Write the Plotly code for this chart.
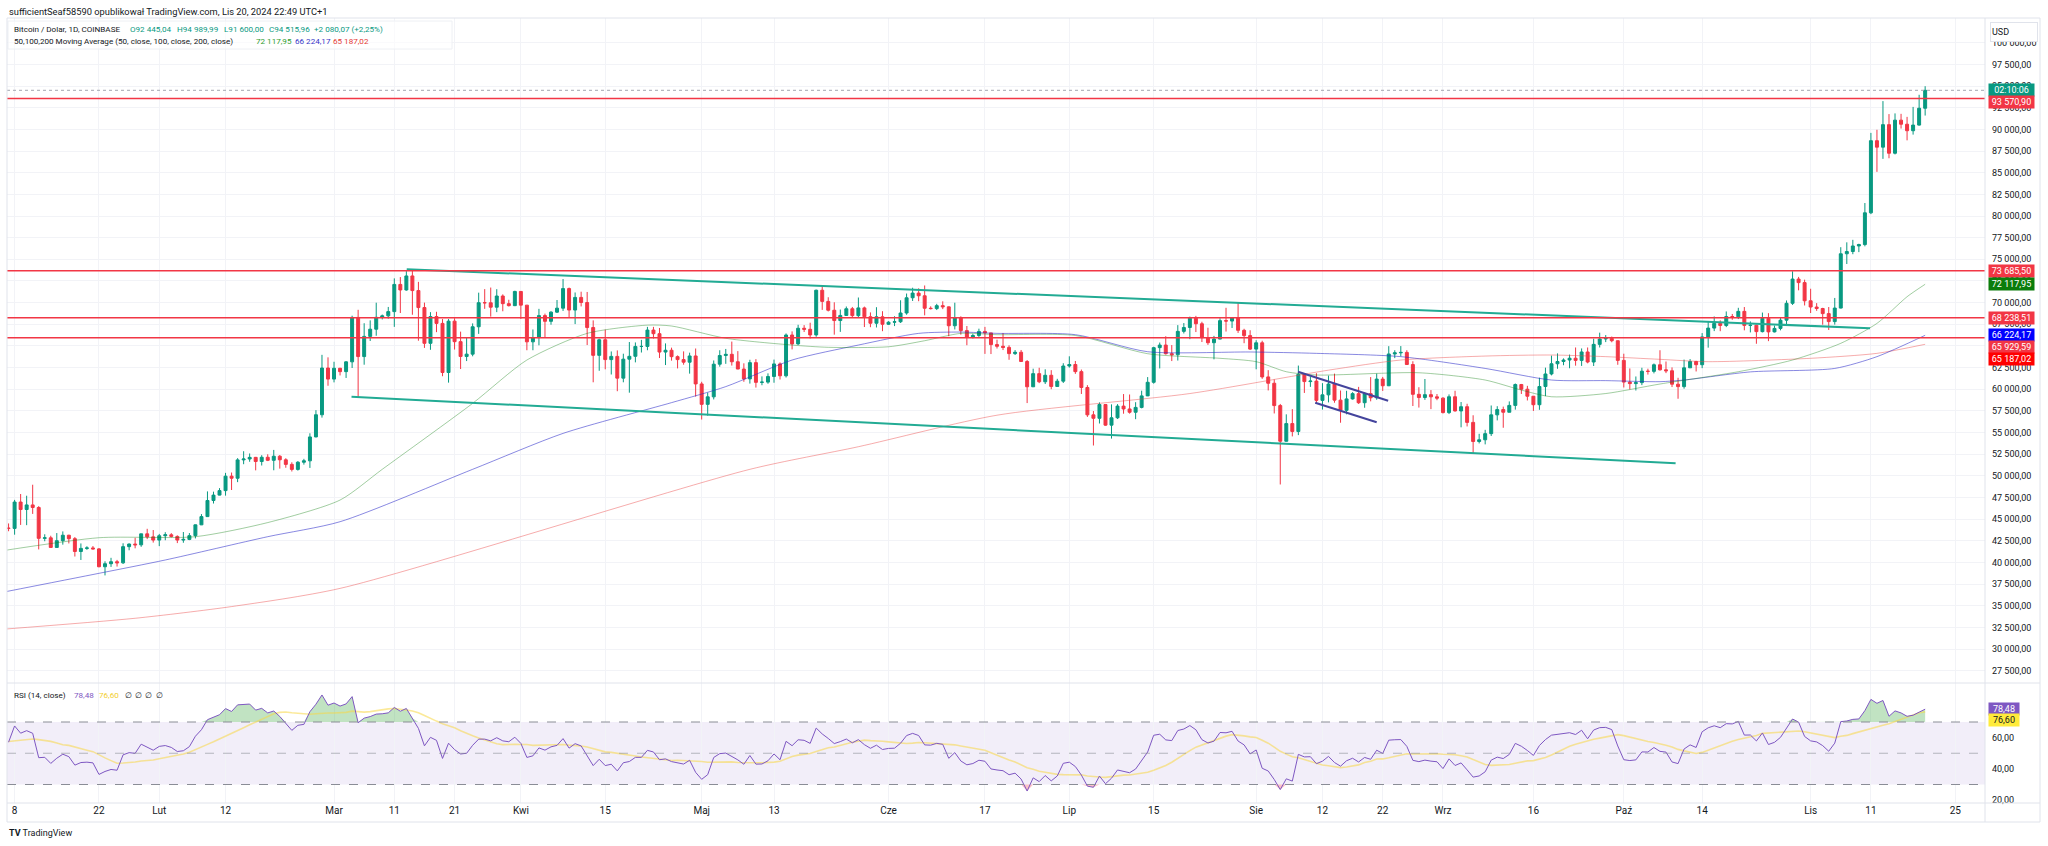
import numpy as np
import pandas as pd
import plotly.graph_objects as go

# ------------------------------------------------------------------ data
FIRST_OPEN = 43960.0  # open of the first candle (2024-01-07)

closes = [
    # Jan 7-31
    43930, 46970, 46110, 46640, 46340, 42780, 42840, 41730, 42510, 43140, 42740, 41260, 41620, 41670,
    41560, 39500, 39850, 40080, 39950, 41820, 42120, 42030, 43300, 42950, 42580,
    # Feb
    43080, 43190, 43000, 42580, 42660, 43090, 44340, 45290, 47150, 47770, 48290, 49960, 49720, 51840,
    51940, 52130, 51650, 52140, 51790, 52260, 51850, 51320, 50740, 51570, 51730, 54490, 57050, 62450, 61170,
    # Mar
    62420, 62030, 63160, 68290, 63770, 66100, 66930, 68300, 68470, 68960, 72100, 71460, 73080, 71390,
    69430, 65300, 68390, 67600, 61930, 67860, 65490, 63780, 64050, 67210, 69990, 69980, 69470, 70760,
    69880, 69650, 71290,
    # Apr
    69710, 65470, 65960, 68500, 67840, 68900, 69360, 71620, 69140, 70600, 70010, 67120, 63910, 65710,
    63420, 63790, 61280, 63470, 63800, 64940, 64940, 66830, 66410, 64290, 64500, 63760, 63420, 63120,
    63840, 60610,
    # May
    58250, 59120, 62890, 63890, 64030, 63170, 62330, 61190, 63070, 60790, 60820, 61470, 62920, 61550,
    66260, 65230, 67040, 66920, 66270, 71430, 70140, 69120, 67930, 68520, 69290, 68500, 69390, 68370,
    67620, 68360, 67500,
    # Jun
    67740, 67790, 68800, 70560, 71100, 70790, 69350, 69310, 69650, 69510, 67330, 68260, 66770, 66020,
    66200, 66670, 66500, 65150, 64960, 64830, 64110, 64270, 63200, 60280, 61800, 60860, 61610, 60320,
    60930, 62680,
    # Jul
    62850, 62030, 60200, 57040, 56640, 58230, 55850, 56700, 58050, 57720, 57340, 57900, 59230, 60800,
    64800, 65100, 64100, 63980, 66680, 67130, 68200, 67560, 65950, 65370, 65790, 67920, 67870, 68250,
    66800, 66190, 64630,
    # Aug
    65360, 61420, 60690, 58110, 53990, 56030, 55120, 61720, 60880, 60940, 58710, 59350, 60600, 58740,
    57560, 58880, 59490, 58440, 59490, 59010, 61170, 60400, 64070, 64200, 64250, 62850, 59410, 59040,
    59370, 59120, 58970,
    # Sep
    57300, 59130, 57490, 57980, 56170, 53960, 54160, 54870, 57040, 57650, 57340, 58130, 60540, 60000,
    59190, 58210, 60310, 61760, 62940, 63200, 63370, 63580, 63330, 64300, 63140, 65180, 65800, 65870,
    65600, 63330,
    # Oct
    60820, 60650, 60760, 62080, 62060, 62820, 62240, 62130, 60580, 60300, 62470, 63200, 62830, 66040,
    67060, 67600, 67360, 68390, 68360, 68990, 67370, 67390, 66650, 68180, 66620, 67020, 67970, 69920,
    72720, 72310, 70210,
    # Nov 1-20
    69490, 69320, 68730, 67810, 69370, 75640, 75900, 76540, 76700, 80370, 88700, 87950, 90550, 87250,
    91070, 90600, 89850, 90500, 92445.04, 94515.96,
]

highs = [
    44500, 47220, 47900, 47700, 48970, 46500, 43250, 43080, 43390, 43580, 43190, 42930, 42190, 41870,
    41890, 41660, 40130, 40530, 40290, 42210, 42190, 42840, 43310, 43880, 43740,
    43290, 43490, 43380, 43120, 43510, 43390, 44370, 45580, 48200, 48170, 48580, 50340, 50380, 52040,
    52840, 52580, 52180, 52380, 52490, 52990, 52400, 52030, 51560, 51700, 51960, 54910, 57580, 63970, 63680,
    63170, 62460, 63240, 68490, 69170, 67620, 67950, 69990, 68620, 69500, 72800, 72950, 73640, 73780,
    72400, 70000, 68900, 68940, 68100, 68100, 68200, 66650, 65990, 67600, 71150, 71560, 71740, 71550,
    70950, 70330, 71370,
    71340, 69710, 66900, 69280, 68730, 69000, 70300, 72720, 71740, 71170, 71260, 71230, 67950, 65840,
    66880, 64360, 64480, 64100, 65450, 65400, 65700, 67200, 67200, 67070, 65290, 64800, 63900, 64370,
    64220, 64700,
    60860, 59600, 63320, 64500, 64650, 65500, 64400, 62990, 63400, 63470, 61480, 61830, 63420, 63100,
    66440, 66680, 67440, 67400, 67680, 71500, 71950, 70620, 70040, 69200, 69550, 69500, 70590, 69540,
    68870, 69470, 69010,
    67850, 68430, 70270, 71050, 71720, 71650, 71980, 69570, 69860, 70150, 69550, 69990, 68420, 67300,
    66400, 66990, 67200, 66500, 65720, 66490, 65070, 64520, 64530, 63370, 62370, 62480, 62300, 62200,
    61200, 63000,
    63800, 63260, 62270, 60470, 57480, 58480, 58230, 58250, 58280, 59440, 59390, 58500, 59830, 61400,
    64900, 65390, 66120, 65100, 67400, 67640, 68380, 68470, 67790, 67100, 66160, 68200, 69400, 68340,
    70000, 66980, 66810,
    65660, 65600, 62200, 61130, 58300, 57100, 57700, 62730, 61750, 61470, 61850, 60700, 61570, 61800,
    59850, 59820, 59660, 60270, 59620, 61400, 61800, 61420, 64970, 64500, 64980, 64500, 63230, 60230,
    61180, 59900, 59440,
    59070, 59400, 59820, 58520, 58320, 56990, 54850, 55310, 58120, 58040, 57990, 58590, 60660, 60610,
    60390, 59210, 61330, 62490, 63880, 64140, 63560, 64000, 64820, 64710, 64820, 65830, 66530, 66250,
    66080, 65610,
    64100, 62400, 61470, 62480, 62370, 62970, 64500, 63200, 62520, 61320, 63420, 63480, 63280, 66480,
    67880, 68400, 67950, 68980, 68690, 69400, 69490, 67830, 67450, 68850, 68780, 67350, 68290, 70250,
    73620, 72970, 72650,
    71600, 69940, 69400, 69490, 70540, 76400, 76960, 77250, 76800, 81500, 89600, 89960, 93270, 91770,
    91850, 91800, 91450, 92600, 94000, 94989.99,
]

lows = [
    43600, 43200, 44330, 44300, 45600, 41500, 42440, 41720, 41720, 42050, 42190, 40680, 40280, 41450,
    41500, 39440, 38500, 39480, 39520, 39820, 41400, 41630, 41800, 42690, 42290,
    41880, 42560, 42890, 42230, 42270, 42570, 42770, 44310, 45240, 46800, 47740, 47710, 48360, 49270,
    51340, 51620, 50630, 51190, 51700, 50640, 50830, 50930, 50500, 50600, 51290, 50910, 54450, 56720, 60400,
    60790, 61590, 61300, 62450, 59000, 62830, 65570, 66170, 68060, 68150, 67200, 68800, 71380, 68600,
    65600, 64770, 64550, 66590, 61500, 60760, 64580, 62330, 63250, 63800, 66390, 69280, 68380, 68900,
    69000, 69550, 69600,
    68110, 64500, 64500, 65070, 66000, 67450, 68800, 69040, 68220, 67520, 69560, 65100, 60800, 62130,
    62300, 61700, 59770, 60800, 59600, 63100, 64240, 64500, 65850, 63600, 62790, 63300, 62400, 62830,
    61800, 59150,
    56500, 56940, 58820, 62600, 62930, 62730, 62320, 60860, 60650, 60190, 60460, 60630, 60750, 61120,
    61350, 64600, 65110, 66610, 65850, 66060, 69160, 68980, 66300, 66620, 68470, 68250, 68230, 67180,
    67160, 67130, 66700,
    67420, 67290, 67650, 68600, 70190, 70160, 68530, 69210, 69140, 69250, 66120, 66900, 66300, 65080,
    65860, 66040, 64080, 64060, 64700, 64520, 63400, 63950, 63150, 58400, 60250, 60700, 60600, 60000,
    60280, 60720,
    62490, 61770, 59450, 56800, 53500, 56040, 55780, 54300, 56560, 57170, 57180, 56540, 57790, 59210,
    60640, 62400, 64000, 63250, 63310, 66440, 65780, 66600, 65450, 65120, 63450, 65770, 66660, 67070,
    66500, 65310, 64530,
    62300, 61200, 59860, 57200, 49000, 53960, 54550, 54700, 59570, 60270, 58300, 57650, 58480, 58440,
    56130, 57100, 58800, 58300, 57860, 58600, 58780, 59800, 60360, 63590, 63800, 62800, 58060, 57880,
    58770, 57700, 58730,
    57200, 57130, 57420, 55600, 55700, 52550, 53740, 53630, 54600, 56400, 55550, 57340, 57640, 59450,
    58700, 57490, 57620, 59200, 61600, 62360, 62770, 62420, 62720, 62690, 62990, 62680, 64820, 65440,
    65420, 62820,
    60200, 59980, 59850, 60470, 61690, 61830, 62150, 61860, 60250, 58900, 60060, 62470, 62050, 62430,
    64800, 66710, 66700, 67170, 68020, 68100, 66800, 66560, 65250, 66560, 65550, 66560, 66800, 67510,
    69730, 71420, 69670,
    68800, 69050, 67450, 66840, 67460, 69330, 74460, 75590, 75830, 76500, 80220, 85100, 86600, 86670,
    87110, 90100, 88740, 89400, 90440, 91600,
]

# closes before the visible window (Dec 1 2023 - Jan 6 2024), used only to warm up the RSI
warmup_closes = [
    38690, 39460, 39970, 41990, 44080, 43770, 43290, 44170, 43720, 43790, 41240, 41450, 42890, 43020,
    41940, 42260, 41370, 42660, 42270, 43660, 43870, 43990, 43730, 43010, 43580, 42520, 43440, 42580,
    42070, 42140, 42280, 44180, 44950, 42850, 44150, 44160, 43960,
]

# moving averages
ma50_dates = ["2024-01-06", "2024-01-22", "2024-02-07", "2024-02-19", "2024-03-02", "2024-03-09",
              "2024-03-24", "2024-04-02", "2024-04-12", "2024-04-22", "2024-04-26", "2024-05-05",
              "2024-05-16", "2024-05-22", "2024-06-01", "2024-06-07", "2024-06-13", "2024-06-19",
              "2024-07-02", "2024-07-14", "2024-07-26", "2024-08-01", "2024-08-06", "2024-08-11",
              "2024-08-28", "2024-09-08", "2024-09-14", "2024-09-19", "2024-09-28", "2024-10-07",
              "2024-10-20", "2024-10-29", "2024-11-06", "2024-11-12", "2024-11-17", "2024-11-20"]
ma50_values = [41350, 42850, 42970, 44600, 47200, 50750, 58370, 63370, 66450, 67400, 67300, 65880,
               65100, 64840, 64900, 65600, 66450, 66300, 66200, 64100, 63570, 63180, 62020, 61640,
               61900, 61060, 59900, 59130, 59500, 60600, 62020, 63370, 65300, 67600, 70680, 72117.95]

ma100_dates = ["2024-01-06", "2024-01-22", "2024-02-02", "2024-02-19", "2024-03-02", "2024-03-24",
               "2024-04-08", "2024-04-26", "2024-05-05", "2024-05-16", "2024-05-27", "2024-06-06",
               "2024-06-13", "2024-06-19", "2024-07-02", "2024-07-14", "2024-07-31", "2024-08-11",
               "2024-08-25", "2024-09-08", "2024-09-19", "2024-09-28", "2024-10-07", "2024-10-11",
               "2024-10-22", "2024-11-05", "2024-11-12", "2024-11-20"]
ma100_values = [36550, 38740, 40280, 42970, 44700, 50750, 54900, 58450, 60300, 63370, 65100, 66450,
                66600, 66450, 66300, 64330, 64300, 64140, 63760, 62400, 61060, 60990, 60870, 61060,
                62000, 62400, 63760, 66224.17]

ma200_dates = ["2024-01-06", "2024-01-28", "2024-02-13", "2024-03-02", "2024-05-09", "2024-05-27",
               "2024-06-19", "2024-07-21", "2024-08-13", "2024-08-25", "2024-09-08", "2024-09-19",
               "2024-09-28", "2024-10-07", "2024-10-15", "2024-11-01", "2024-11-12", "2024-11-20"]
ma200_values = [32280, 33550, 34900, 37000, 50750, 53360, 57000, 59500, 62200, 63370, 63830, 63950,
                63760, 63450, 63180, 63570, 64140, 65187.02]

# drawings
h_levels = [93570.90, 73685.50, 68238.51, 65929.59]
last_price = 94515.96
channel_upper_dates = ["2024-03-13 01:30", "2024-11-10 20:24"]
channel_upper_values = [73850, 67030]
channel_lower_dates = ["2024-03-03 21:36", "2024-10-09 14:24"]
channel_lower_values = [59130, 51450]
flag_upper_dates = ["2024-08-07 22:48", "2024-08-22 21:36"]
flag_upper_values = [62020, 58670]
flag_lower_dates = ["2024-08-10 19:12", "2024-08-21 00:00"]
flag_lower_values = [58440, 56180]

# axis ticks
tick_dates = ["2024-01-08", "2024-01-22", "2024-02-01", "2024-02-12", "2024-03-01", "2024-03-11",
              "2024-03-21", "2024-04-01", "2024-04-15", "2024-05-01", "2024-05-13", "2024-06-01",
              "2024-06-17", "2024-07-01", "2024-07-15", "2024-08-01", "2024-08-12", "2024-08-22",
              "2024-09-01", "2024-09-16", "2024-10-01", "2024-10-14", "2024-11-01", "2024-11-11",
              "2024-11-25"]
tick_labels = ["8", "22", "Lut", "12", "Mar", "11", "21", "Kwi", "15", "Maj", "13", "Cze", "17",
               "Lip", "15", "Sie", "12", "22", "Wrz", "16", "Paź", "14", "Lis", "11", "25"]
price_ticks = [27500, 30000, 32500, 35000, 37500, 40000, 42500, 45000, 47500, 50000, 52500, 55000,
               57500, 60000, 62500, 65000, 67500, 70000, 72500, 75000, 77500, 80000, 82500, 85000,
               87500, 90000, 92500, 95000, 97500, 100000]
rsi_ticks = [20, 40, 60, 80]

# right-axis value labels
price_label_values = [94515.96, 93570.90, 73685.50, 72117.95, 68238.51, 66224.17, 65929.59, 65187.02]
price_label_texts = ["02:10:06", "93 570,90", "73 685,50", "72 117,95", "68 238,51", "66 224,17",
                     "65 929,59", "65 187,02"]
price_label_colors = ["#089981", "#F23645", "#F23645", "#0B7D0B", "#F23645", "#0000FF", "#F23645", "#FF0000"]
rsi_label_values = [78.48, 76.60]
rsi_label_texts = ["78,48", "76,60"]

# header texts (pieces of each legend row)
title_text = "sufficientSeaf58590 opublikował TradingView.com, Lis 20, 2024 22:49 UTC+1"
row2_texts = ["Bitcoin / Dolar, 1D, COINBASE", "O92 445,04", "H94 989,99", "L91 600,00", "C94 515,96",
              "+2 080,07 (+2,25%)"]
row3_texts = ["50,100,200 Moving Average (50, close, 100, close, 200, close)", "72 117,95", "66 224,17",
              "65 187,02"]
rsi_texts = ["RSI (14, close)", "78,48", "76,60", "∅", "∅", "∅", "∅"]

# ------------------------------------------------------------------ geometry / style
W, H = 2048, 846
PLOT_LEFT, PLOT_RIGHT = 7, 1985
PLOT_TOP, PANE_SPLIT, PLOT_BOTTOM = 18, 683, 803
PRICE_MIN, PRICE_MAX = 26075, 102866
RSI_MIN, RSI_MAX = 18.16, 94.96
X_RANGE = ["2024-01-06 17:44", "2024-11-29 22:19"]
FONT = "Roboto, Arial, sans-serif"
TXT = "#131722"
GRID = "#f2f3f7"
UP, DOWN = "#089981", "#F23645"

row2_x = [12, 128, 175, 222, 267, 312]
row2_colors = [TXT, UP, UP, UP, UP, UP]
row3_x = [12, 254, 293, 331]
row3_colors = [TXT, "#2E9D2E", "#3535C8", "#E53935"]
rsi_x = [12, 72, 97, 123, 133, 143, 154]
rsi_colors = [TXT, "#7E57C2", "#F2CE2C", TXT, TXT, TXT, TXT]
ROW_FONT = 8.1


def fx(px):
    return (px - PLOT_LEFT) / (PLOT_RIGHT - PLOT_LEFT)


def fy(py):
    return (PLOT_BOTTOM - py) / (PLOT_BOTTOM - PLOT_TOP)


def price_px(p):
    return PLOT_TOP + (PRICE_MAX - p) / (PRICE_MAX - PRICE_MIN) * (PANE_SPLIT - PLOT_TOP)


def rsi_px(r):
    return PANE_SPLIT + (RSI_MAX - r) / (RSI_MAX - RSI_MIN) * (PLOT_BOTTOM - PANE_SPLIT)


def fmt(v):
    return f"{v:,.2f}".replace(",", " ").replace(".", ",")


split = fy(PANE_SPLIT)

n = len(closes)
assert len(highs) == n and len(lows) == n, (len(closes), len(highs), len(lows))
dates = pd.date_range("2024-01-07", periods=n, freq="D")
opens = [FIRST_OPEN] + closes[:-1]

# ------------------------------------------------------------------ RSI (14, Wilder) + its 14 SMA
allc = np.array(warmup_closes + closes, dtype=float)
d = np.diff(allc)
g = np.clip(d, 0, None)
l = np.clip(-d, 0, None)
N = 14
ag = np.full(len(d), np.nan)
al = np.full(len(d), np.nan)
ag[N - 1] = g[:N].mean()
al[N - 1] = l[:N].mean()
for i in range(N, len(d)):
    ag[i] = (ag[i - 1] * (N - 1) + g[i]) / N
    al[i] = (al[i - 1] * (N - 1) + l[i]) / N
rsi_all = 100 - 100 / (1 + ag / al)
rsi_ma_all = pd.Series(rsi_all).rolling(N).mean().values
rsi = rsi_all[-n:]
rsi_ma = rsi_ma_all[-n:]

fig = go.Figure()

# ------------------------------------------------------------------ price pane
fig.add_trace(go.Scatter(x=ma200_dates, y=ma200_values, mode="lines", hoverinfo="skip",
                         line=dict(color="rgba(235,70,70,0.45)", width=1, shape="spline", smoothing=0.7)))
fig.add_trace(go.Scatter(x=ma100_dates, y=ma100_values, mode="lines", hoverinfo="skip",
                         line=dict(color="rgba(40,40,200,0.55)", width=1, shape="spline", smoothing=0.7)))
fig.add_trace(go.Scatter(x=ma50_dates, y=ma50_values, mode="lines", hoverinfo="skip",
                         line=dict(color="rgba(20,130,20,0.4)", width=1, shape="spline", smoothing=0.7)))

for xs, ys, col in [(channel_upper_dates, channel_upper_values, "#22AB94"),
                    (channel_lower_dates, channel_lower_values, "#22AB94"),
                    (flag_upper_dates, flag_upper_values, "#44449C"),
                    (flag_lower_dates, flag_lower_values, "#44449C")]:
    fig.add_trace(go.Scatter(x=xs, y=ys, mode="lines", hoverinfo="skip",
                             line=dict(color=col, width=2)))

fig.add_trace(go.Candlestick(
    x=dates, open=opens, high=highs, low=lows, close=closes, hoverinfo="skip",
    increasing=dict(line=dict(color=UP, width=1), fillcolor=UP),
    decreasing=dict(line=dict(color=DOWN, width=1), fillcolor=DOWN),
    whiskerwidth=0, xaxis="x", yaxis="y"))

# ------------------------------------------------------------------ RSI pane
base70 = np.full(n, 70.0)
base30 = np.full(n, 30.0)
fig.add_trace(go.Scatter(x=dates, y=base70, mode="lines", line=dict(width=0), hoverinfo="skip",
                         xaxis="x2", yaxis="y2"))
fig.add_trace(go.Scatter(x=dates, y=np.maximum(rsi, 70), mode="lines", line=dict(width=0),
                         fill="tonexty", fillcolor="rgba(76,175,80,0.35)", hoverinfo="skip",
                         xaxis="x2", yaxis="y2"))
fig.add_trace(go.Scatter(x=dates, y=base30, mode="lines", line=dict(width=0), hoverinfo="skip",
                         xaxis="x2", yaxis="y2"))
fig.add_trace(go.Scatter(x=dates, y=np.minimum(rsi, 30), mode="lines", line=dict(width=0),
                         fill="tonexty", fillcolor="rgba(242,54,69,0.3)", hoverinfo="skip",
                         xaxis="x2", yaxis="y2"))
fig.add_trace(go.Scatter(x=dates, y=rsi_ma, mode="lines", hoverinfo="skip",
                         line=dict(color="rgba(247,215,70,0.55)", width=1.6), xaxis="x2", yaxis="y2"))
fig.add_trace(go.Scatter(x=dates, y=rsi, mode="lines", hoverinfo="skip",
                         line=dict(color="#7E57C2", width=1), xaxis="x2", yaxis="y2"))

# ------------------------------------------------------------------ shapes
shapes = []
for lv in h_levels:
    shapes.append(dict(type="line", xref="paper", x0=0, x1=1, yref="y", y0=lv, y1=lv,
                       line=dict(color="#F23645", width=1.5)))
shapes.append(dict(type="line", xref="paper", x0=0, x1=1, yref="y", y0=last_price, y1=last_price,
                   line=dict(color="#A3A6AF", width=1, dash="dot")))
shapes.append(dict(type="rect", xref="paper", x0=0, x1=1, yref="y2", y0=30, y1=70,
                   fillcolor="rgba(126,87,194,0.1)", line=dict(width=0), layer="below"))
for lv, col in [(70, "#8a8d96"), (50, "rgba(138,141,150,0.6)"), (30, "#8a8d96")]:
    shapes.append(dict(type="line", xref="paper", x0=0, x1=1, yref="y2", y0=lv, y1=lv,
                       line=dict(color=col, width=1, dash="dash")))
# legend box behind the header rows
shapes.append(dict(type="rect", xref="paper", yref="paper", x0=fx(8), x1=fx(452), y0=fy(49), y1=fy(21),
                   line=dict(color="#eef0f4", width=1), fillcolor="rgba(255,255,255,0.6)"))
# frame & separators
BORDER = "#e0e3eb"
shapes.append(dict(type="rect", xref="paper", yref="paper", x0=0, x1=fx(2040), y0=fy(822), y1=1,
                   line=dict(color=BORDER, width=1)))
shapes.append(dict(type="line", xref="paper", yref="paper", x0=0, x1=fx(2040), y0=split, y1=split,
                   line=dict(color=BORDER, width=1)))
shapes.append(dict(type="line", xref="paper", yref="paper", x0=0, x1=fx(2040), y0=0, y1=0,
                   line=dict(color=BORDER, width=1)))
shapes.append(dict(type="line", xref="paper", yref="paper", x0=1, x1=1, y0=fy(822), y1=1,
                   line=dict(color=BORDER, width=1)))

# ------------------------------------------------------------------ annotations
ann = []


def text_ann(px, py, text, size=ROW_FONT, color=TXT):
    ann.append(dict(xref="paper", yref="paper", x=fx(px), y=fy(py), xanchor="left", yanchor="middle",
                    text=text, showarrow=False, font=dict(family=FONT, size=size, color=color)))


text_ann(7, 11, title_text, size=9.3)
for t, x, c in zip(row2_texts, row2_x, row2_colors):
    text_ann(x, 29, t, color=c)
for t, x, c in zip(row3_texts, row3_x, row3_colors):
    text_ann(x, 41, t, color=c)
for t, x, c in zip(rsi_texts, rsi_x, rsi_colors):
    text_ann(x, 695, t, color=c)
text_ann(7, 833, "<b>TV</b> TradingView", size=9)

# USD box (covers the top of the axis like in the original)
ann.append(dict(xref="paper", yref="paper", x=fx(1990), y=fy(32), xanchor="left", yanchor="middle",
                text="USD", showarrow=False, align="left", width=44, height=16,
                bgcolor="white", bordercolor=BORDER, borderwidth=1, borderpad=1,
                font=dict(family=FONT, size=9, color=TXT)))

# price labels with overlap avoidance
order = np.argsort(price_label_values)[::-1]
prev = -1e9
for i in order:
    y = max(price_px(price_label_values[i]), prev + 11.7)
    prev = y
    ann.append(dict(xref="paper", yref="paper", x=fx(1988), y=fy(y), xanchor="left", yanchor="middle",
                    text=price_label_texts[i], showarrow=False, width=43, height=10, borderpad=1,
                    bgcolor=price_label_colors[i], font=dict(family=FONT, size=9, color="white")))

prev = -1e9
for val, txt, bg, fc in zip(rsi_label_values, rsi_label_texts, ["#7E57C2", "#FFEB3B"], ["white", TXT]):
    y = max(rsi_px(val), prev + 11.7)
    prev = y
    ann.append(dict(xref="paper", yref="paper", x=fx(1988), y=fy(y), xanchor="left", yanchor="middle",
                    text=txt, showarrow=False, width=28, height=10, borderpad=1,
                    bgcolor=bg, font=dict(family=FONT, size=9, color=fc)))

# ------------------------------------------------------------------ layout
fig.update_layout(
    width=W, height=H, autosize=False,
    margin=dict(l=PLOT_LEFT, r=W - PLOT_RIGHT, t=PLOT_TOP, b=H - PLOT_BOTTOM, pad=0),
    paper_bgcolor="white", plot_bgcolor="white", showlegend=False,
    font=dict(family=FONT, size=9, color=TXT),
    xaxis=dict(domain=[0, 1], range=X_RANGE, type="date", anchor="y", showticklabels=False,
               tickvals=tick_dates, showgrid=True, gridcolor=GRID, zeroline=False, showline=False,
               ticks="", rangeslider=dict(visible=False)),
    xaxis2=dict(domain=[0, 1], range=X_RANGE, type="date", anchor="y2", matches="x",
                tickvals=tick_dates, ticktext=tick_labels, showgrid=True, gridcolor=GRID,
                zeroline=False, showline=False, ticks="",
                tickfont=dict(family=FONT, size=10, color=TXT)),
    yaxis=dict(domain=[split, 1], range=[PRICE_MIN, PRICE_MAX], side="right", anchor="x",
               tickvals=price_ticks, ticktext=[fmt(v) for v in price_ticks], showgrid=True,
               gridcolor=GRID, zeroline=False, showline=False, ticks="", ticklabelstandoff=6,
               tickfont=dict(family=FONT, size=9, color=TXT)),
    yaxis2=dict(domain=[0, split], range=[RSI_MIN, RSI_MAX], side="right", anchor="x2",
                tickvals=rsi_ticks, ticktext=[fmt(v) for v in rsi_ticks], showgrid=False,
                zeroline=False, showline=False, ticks="", ticklabelstandoff=6,
                tickfont=dict(family=FONT, size=9, color=TXT)),
    shapes=shapes, annotations=ann,
)

fig.write_html("out.html", config={"displayModeBar": False})
